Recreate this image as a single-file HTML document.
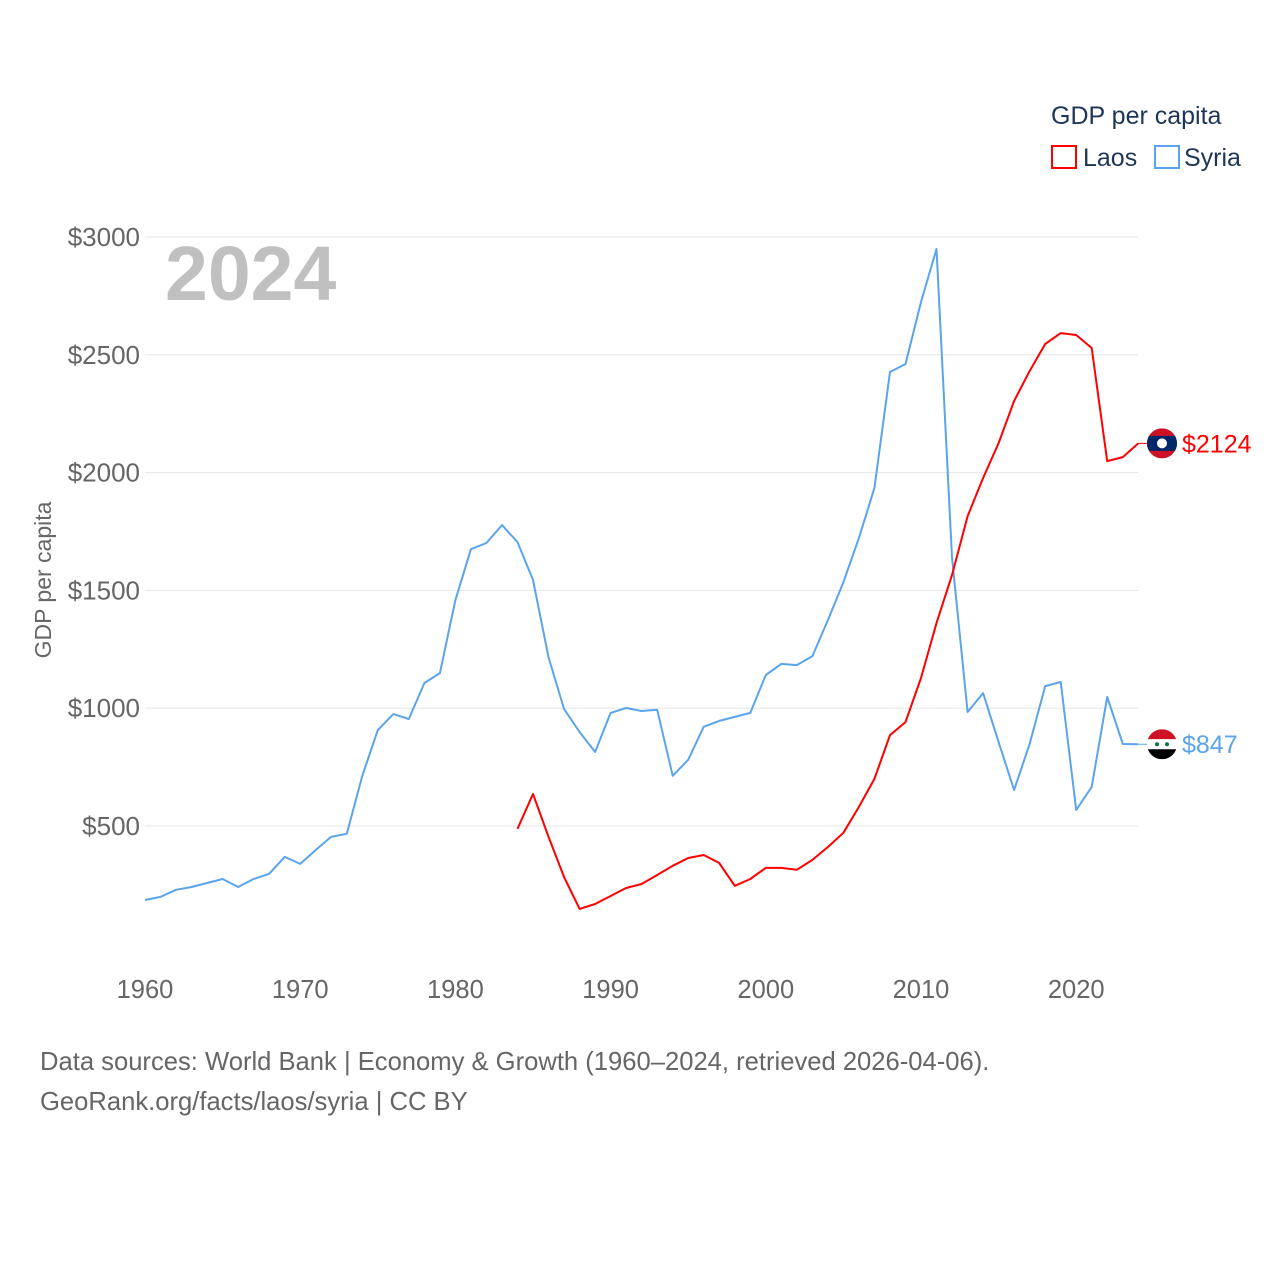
<!DOCTYPE html>
<html><head><meta charset="utf-8"><style>
body{margin:0;background:#fff;font-family:"Liberation Sans",sans-serif}
svg text{font-family:"Liberation Sans",sans-serif}
</style></head><body>
<svg id="c" width="1280" height="1280" viewBox="0 0 1280 1280">
<text x="1051" y="124" font-size="25" fill="#1d3557">GDP per capita</text>
<g><rect x="1052" y="146" width="24" height="22" fill="none" stroke="red" stroke-width="2"/><text x="1083" y="166" font-size="25" fill="#1d3557">Laos</text></g>
<g><rect x="1155" y="146" width="24" height="22" fill="none" stroke="#5ba4eb" stroke-width="2"/><text x="1184" y="166" font-size="25" fill="#1d3557">Syria</text></g>
<g id="grid"></g><g id="yt"></g><g id="xt"></g>
<text x="165" y="300" font-size="77" font-weight="bold" fill="#c0c0c0">2024</text>
<text transform="translate(51,580) rotate(-90)" text-anchor="middle" font-size="23" fill="#666">GDP per capita</text>
<g id="series"></g>
<text x="40" y="1070" font-size="25.6" fill="#666">Data sources: World Bank | Economy &amp; Growth (1960–2024, retrieved 2026-04-06).</text>
<text x="40" y="1110" font-size="25.6" fill="#666">GeoRank.org/facts/laos/syria | CC BY</text>
</svg>
<script>
const yTicks=[500,1000,1500,2000,2500,3000];
const xTicks=[1960,1970,1980,1990,2000,2010,2020];
const syriaStart=1960;
const syria=[186,199,229,241,258,275,241,275,297,369,339,398,454,467,713,907,975,954,1107,1149,1459,1675,1701,1777,1705,1544,1217,997,899,814,980,1001,988,993,713,781,921,946,963,980,1141,1188,1183,1221,1374,1535,1722,1934,2427,2461,2724,2949,1640,984,1064,856,653,848,1094,1111,568,666,1048,848,847];
const laosStart=1984;
const laos=[488,636,454,284,148,169,203,237,254,292,331,364,377,343,246,275,322,322,314,356,411,471,581,700,886,941,1128,1361,1565,1815,1977,2125,2304,2431,2546,2592,2584,2529,2049,2066,2124];
const X=y=>145+(y-1960)*15.52;
const Y=v=>943.8-v*0.2356;
const NS="http://www.w3.org/2000/svg";
function mk(t,a,p){const e=document.createElementNS(NS,t);for(const k in a)e.setAttribute(k,a[k]);p.appendChild(e);return e;}
const grid=document.getElementById('grid'),yt=document.getElementById('yt'),xt=document.getElementById('xt'),ser=document.getElementById('series');
yTicks.forEach(v=>{
 const l=mk('line',{x1:145,x2:1138,y1:Y(v),y2:Y(v),stroke:'#e6e6e6','stroke-width':1},grid);
 
 
 const t=mk('text',{x:140,y:Y(v)+9,'text-anchor':'end','font-size':26,fill:'#666'},yt);t.textContent='$'+v;
 
 
});
xTicks.forEach(v=>{
 const t=mk('text',{x:X(v),y:998,'text-anchor':'middle','font-size':25.5,fill:'#666'},xt);t.textContent=v;
 
 
});
function draw(arr,start,col,name){
 const pts=arr.map((v,i)=>X(start+i).toFixed(1)+','+Y(v).toFixed(1)).join(' ');
 const p=mk('polyline',{points:pts,fill:'none',stroke:col,'stroke-width':2,'stroke-linejoin':'round'},ser);
 
 
 const last=arr[arr.length-1],ly=Y(last);
 const c=mk('line',{x1:X(start+arr.length-1),x2:1148,y1:ly,y2:ly,stroke:col,'stroke-width':1},ser);
 
 
 return ly;
}
const ly1=draw(syria,syriaStart,'#5ba4eb','syria');
const ly2=draw(laos,laosStart,'red','laos');
let g=mk('g',{},ser);


const cp1=mk('clipPath',{id:'cl1'},g);mk('circle',{cx:1162,cy:ly2,r:15},cp1);
mk('rect',{x:1147,y:ly2-15,width:30,height:30,fill:'#ce1126','clip-path':'url(#cl1)'},g);
mk('rect',{x:1147,y:ly2-7.5,width:30,height:15,fill:'#002868','clip-path':'url(#cl1)'},g);
mk('circle',{cx:1162,cy:ly2,r:5,fill:'#fff'},g);
let t=mk('text',{x:1182,y:ly2+9,'font-size':25,fill:'red'},ser);t.textContent='$'+laos[laos.length-1];


g=mk('g',{},ser);


const cp=mk('clipPath',{id:'cl2'},g);mk('circle',{cx:1162,cy:ly1,r:15},cp);
mk('rect',{x:1147,y:ly1-15,width:30,height:10,fill:'#ce1126','clip-path':'url(#cl2)'},g);
mk('rect',{x:1147,y:ly1-5,width:30,height:10,fill:'#fff','clip-path':'url(#cl2)'},g);
mk('rect',{x:1147,y:ly1+5,width:30,height:10,fill:'#000','clip-path':'url(#cl2)'},g);
mk('circle',{cx:1157,cy:ly1,r:2,fill:'#007a3d'},g);mk('circle',{cx:1167,cy:ly1,r:2,fill:'#007a3d'},g);
t=mk('text',{x:1182,y:ly1+9,'font-size':25,fill:'#5ba4eb'},ser);t.textContent='$'+syria[syria.length-1];


</script>
</body></html>
